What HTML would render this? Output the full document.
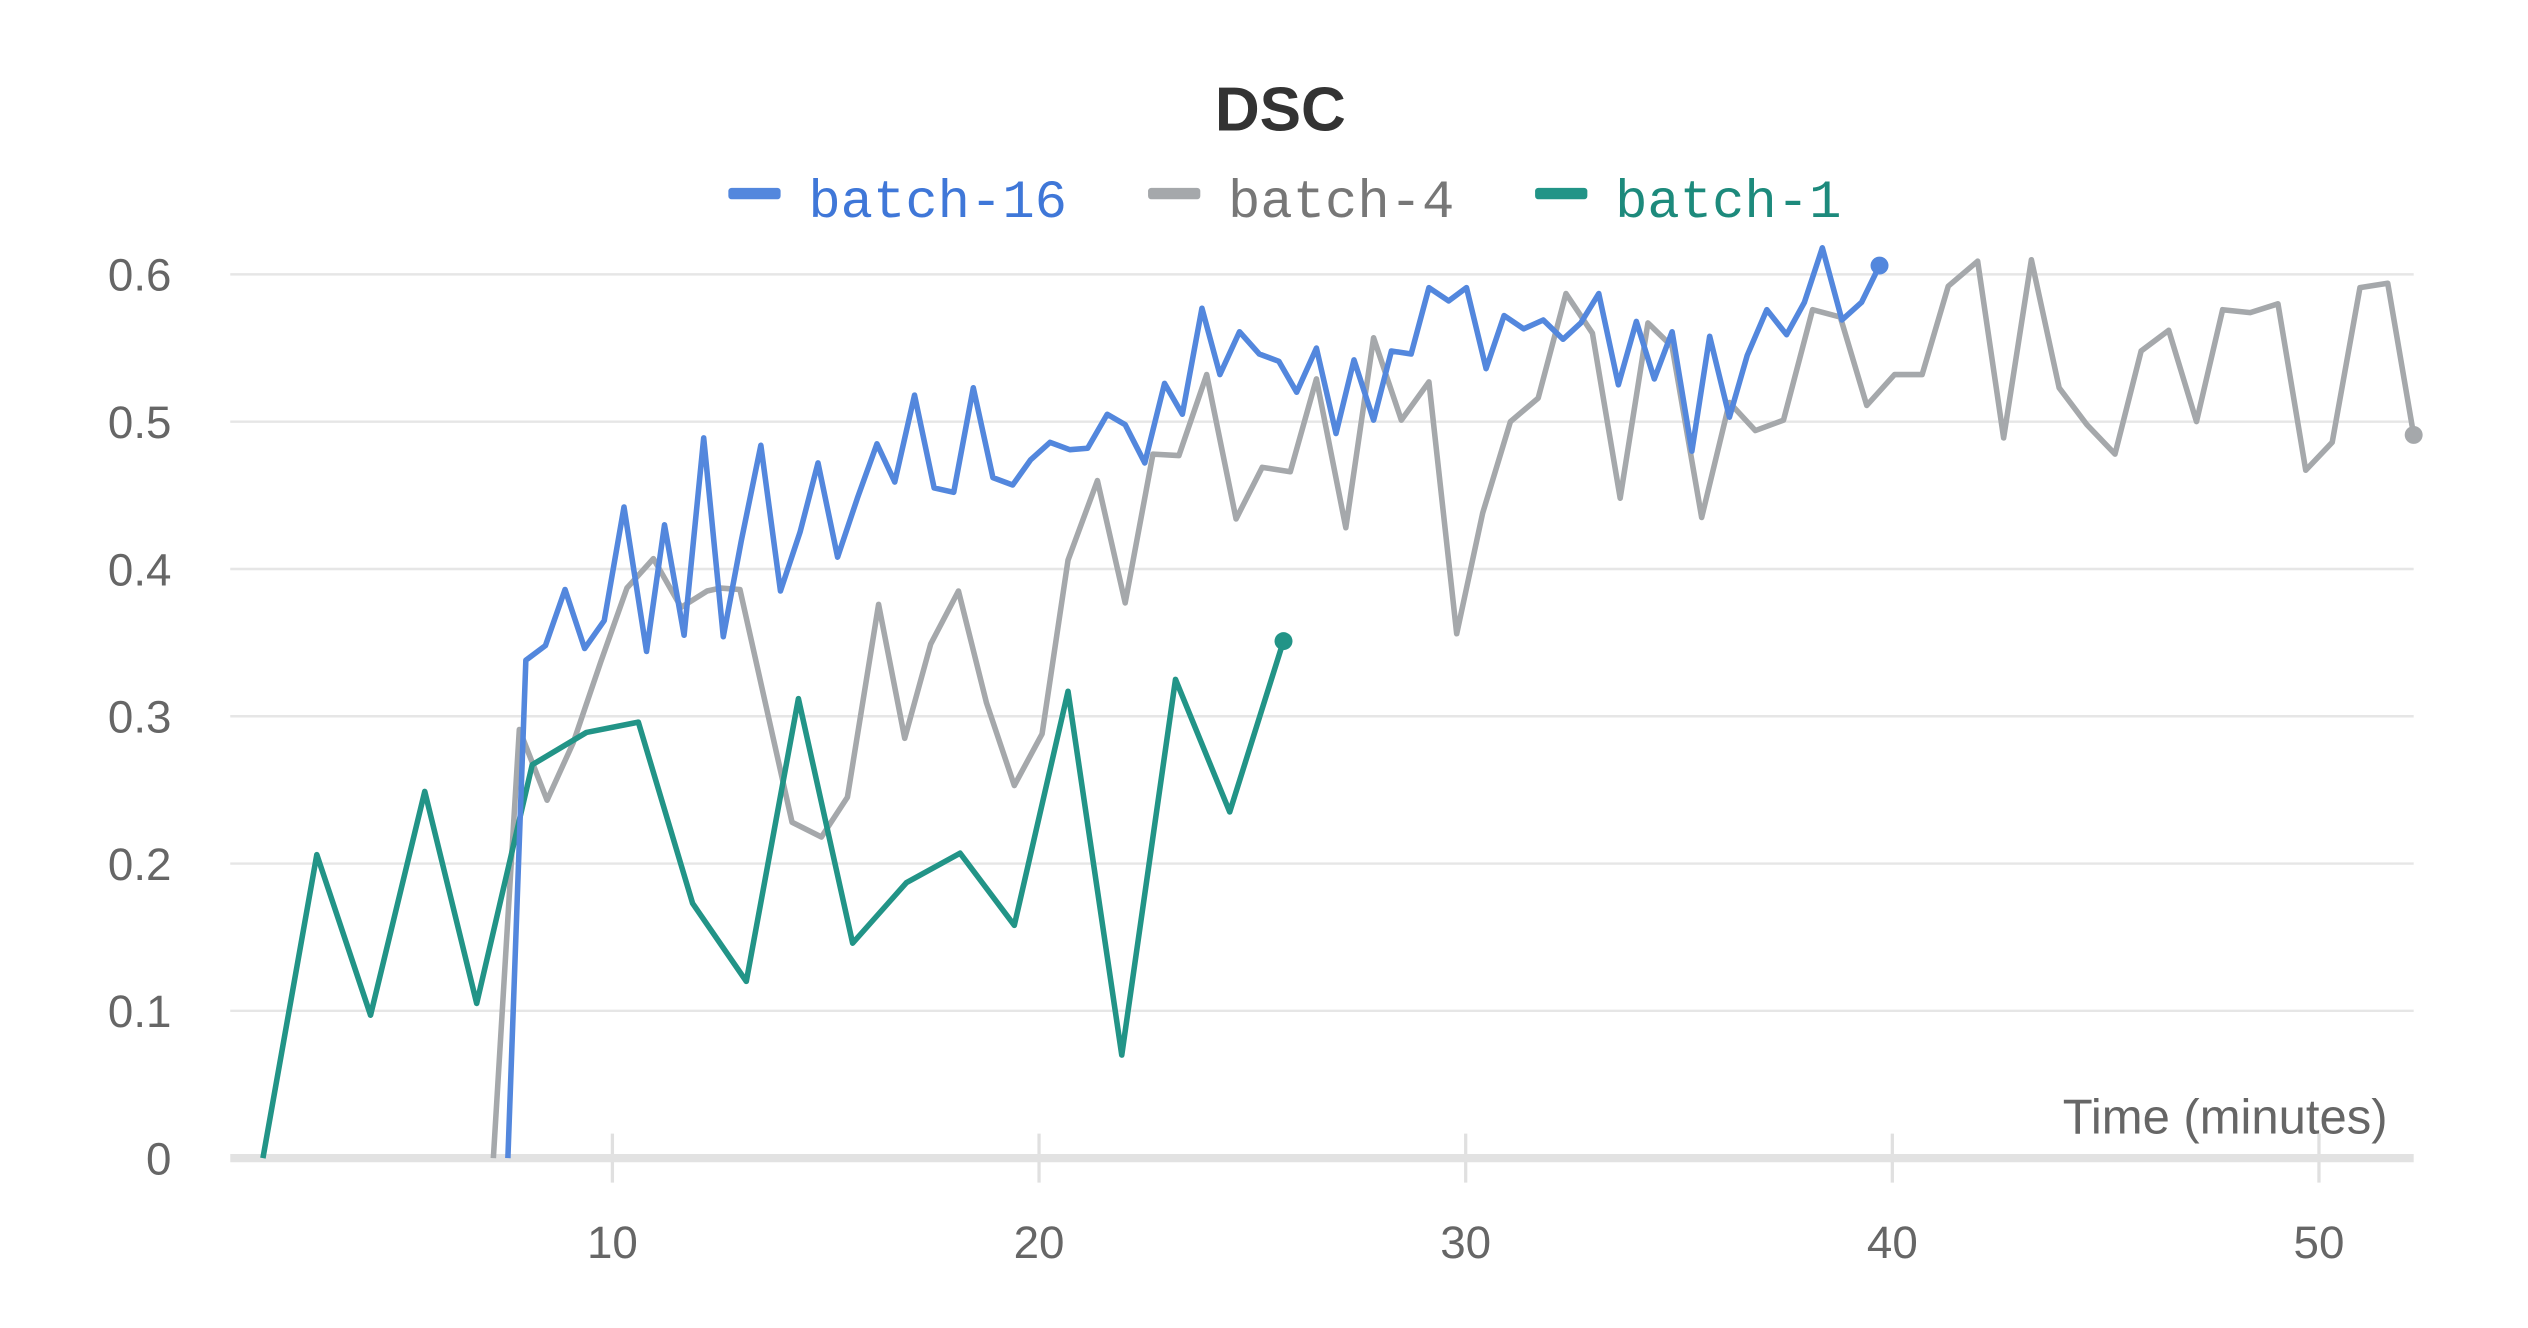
<!DOCTYPE html>
<html><head><meta charset="utf-8"><style>
html,body{margin:0;padding:0;background:#fff;}
svg{display:block;font-family:"Liberation Sans",sans-serif;}
</style></head><body>
<svg id="chart" width="2528" height="1328" viewBox="0 0 1548 813" preserveAspectRatio="none" xmlns="http://www.w3.org/2000/svg">
<text x="784" y="80" text-anchor="middle" font-size="38" font-weight="bold" fill="#333">DSC</text>
<g font-family="'Liberation Mono', monospace">
 <g><rect x="446" y="115" width="32" height="7" rx="2" fill="#5387dd"/><text x="495" y="133" font-size="33" fill="#3f77d8">batch-16</text></g>
 <g><rect x="703" y="115" width="32" height="7" rx="2" fill="#a5a8ab"/><text x="752" y="133" font-size="33" fill="#777">batch-4</text></g>
 <g><rect x="940" y="115" width="32" height="7" rx="2" fill="#229487"/><text x="989" y="133" font-size="33" fill="#1d8a7c">batch-1</text></g>
</g>
<g id="grid"></g>
<g id="axes"></g>
<g id="series"></g>
<text x="1462" y="694" text-anchor="end" font-size="30" fill="#666">Time (minutes)</text>
</svg>
<script>
const yTicks=[0,0.1,0.2,0.3,0.4,0.5,0.6];
const yTickLabels=["0","0.1","0.2","0.3","0.4","0.5","0.6"];
const xTicks=[10,20,30,40,50];
const xTickLabels=["10","20","30","40","50"];
const seriesNames=["batch-4","batch-1","batch-16"];
const b4T=[7.21,7.82,8.47,9.08,9.73,10.34,10.96,11.61,12.22,12.53,12.99,14.21,14.90,15.51,16.24,16.85,17.46,18.11,18.77,19.42,20.07,20.68,21.37,22.02,22.67,23.28,23.93,24.62,25.23,25.89,26.50,27.19,27.84,28.49,29.14,29.79,30.40,31.05,31.70,32.35,32.97,33.62,34.27,34.84,35.53,36.18,36.79,37.45,38.13,38.78,39.40,40.05,40.70,41.31,42.00,42.61,43.26,43.91,44.56,45.22,45.83,46.48,47.13,47.74,48.39,49.04,49.69,50.31,50.96,51.61,52.22];
const b4V=[0,.291,.243,.282,.337,.387,.407,.374,.385,.387,.386,.228,.218,.245,.376,.285,.349,.385,.309,.253,.288,.406,.460,.377,.478,.477,.532,.434,.469,.466,.529,.428,.557,.501,.527,.356,.438,.500,.516,.587,.560,.448,.567,.551,.435,.513,.494,.501,.576,.571,.511,.532,.532,.592,.609,.489,.610,.523,.498,.478,.548,.562,.500,.576,.574,.580,.467,.486,.591,.594,.491];
const b1T=[1.81,3.07,4.33,5.6,6.82,8.12,9.39,10.61,11.88,13.14,14.36,15.63,16.89,18.15,19.42,20.68,21.94,23.2,24.47,25.73];
const b1V=[0,.206,.097,.249,.105,.267,.289,.296,.173,.120,.312,.146,.187,.207,.158,.317,.070,.325,.235,.351];
const b16T=[7.55,7.97,8.43,8.89,9.35,9.81,10.27,10.80,11.22,11.68,12.14,12.60,13.02,13.48,13.94,14.40,14.82,15.28,15.74,16.20,16.62,17.08,17.54,18.00,18.46,18.92,19.38,19.80,20.26,20.72,21.14,21.60,22.02,22.48,22.94,23.36,23.82,24.24,24.70,25.16,25.62,26.04,26.50,26.96,27.38,27.84,28.26,28.72,29.14,29.60,30.02,30.48,30.90,31.36,31.82,32.28,32.70,33.12,33.58,34.00,34.42,34.84,35.30,35.72,36.18,36.60,37.06,37.52,37.94,38.36,38.82,39.28,39.70];
const b16V=[0,.338,.348,.386,.346,.365,.442,.344,.430,.355,.489,.354,.419,.484,.385,.425,.472,.408,.448,.485,.459,.518,.455,.452,.523,.462,.457,.474,.486,.481,.482,.505,.498,.472,.526,.505,.577,.532,.561,.546,.541,.520,.550,.492,.542,.501,.548,.546,.591,.582,.591,.536,.572,.563,.569,.556,.567,.587,.525,.568,.529,.561,.480,.558,.503,.545,.576,.559,.581,.618,.569,.581,.606];

const NS="http://www.w3.org/2000/svg";
const X=t=>375+(t-10)*26.125;
const Y=v=>709-v*901.7;
const grid=document.getElementById('grid'),axes=document.getElementById('axes'),ser=document.getElementById('series');
function mk(tag,attrs,parent){const e=document.createElementNS(NS,tag);for(const k in attrs)e.setAttribute(k,attrs[k]);parent.appendChild(e);return e;}
yTicks.forEach((v,i)=>{
  if(v>0){const l=mk('line',{x1:141,x2:1478,y1:Y(v),y2:Y(v),stroke:'#e6e6e6','stroke-width':1.5},grid);
  
  }
  const t=mk('text',{x:105,y:Y(v)+10,'text-anchor':'end','font-size':28,fill:'#666'},axes);
  t.textContent=yTickLabels[i];
  
  
});
xTicks.forEach((v,i)=>{
  const l=mk('line',{x1:X(v),x2:X(v),y1:694,y2:724,stroke:'#e0e0e0','stroke-width':2},axes);
  
  
  const t=mk('text',{x:X(v),y:770,'text-anchor':'middle','font-size':28,fill:'#666'},axes);
  t.textContent=xTickLabels[i];
  
  
});
const ax=mk('line',{x1:141,x2:1478,y1:709,y2:709,stroke:'#e2e2e2','stroke-width':5},axes);


const defs=[[b4T,b4V,'#a5a8ab'],[b1T,b1V,'#229487'],[b16T,b16V,'#5387dd']];
defs.forEach((d,k)=>{
  const [T,V,c]=d;
  const pts=T.map((t,i)=>X(t).toFixed(1)+','+Y(V[i]).toFixed(1)).join(' ');
  const p=mk('polyline',{points:pts,fill:'none',stroke:c,'stroke-width':3.4,'stroke-linejoin':'round'},ser);
  
  
  const n=T.length-1;
  const dot=mk('ellipse',{cx:X(T[n]),cy:Y(V[n]),rx:5.5,ry:5.5,fill:c},ser);
  
  
});
</script>
</body></html>
